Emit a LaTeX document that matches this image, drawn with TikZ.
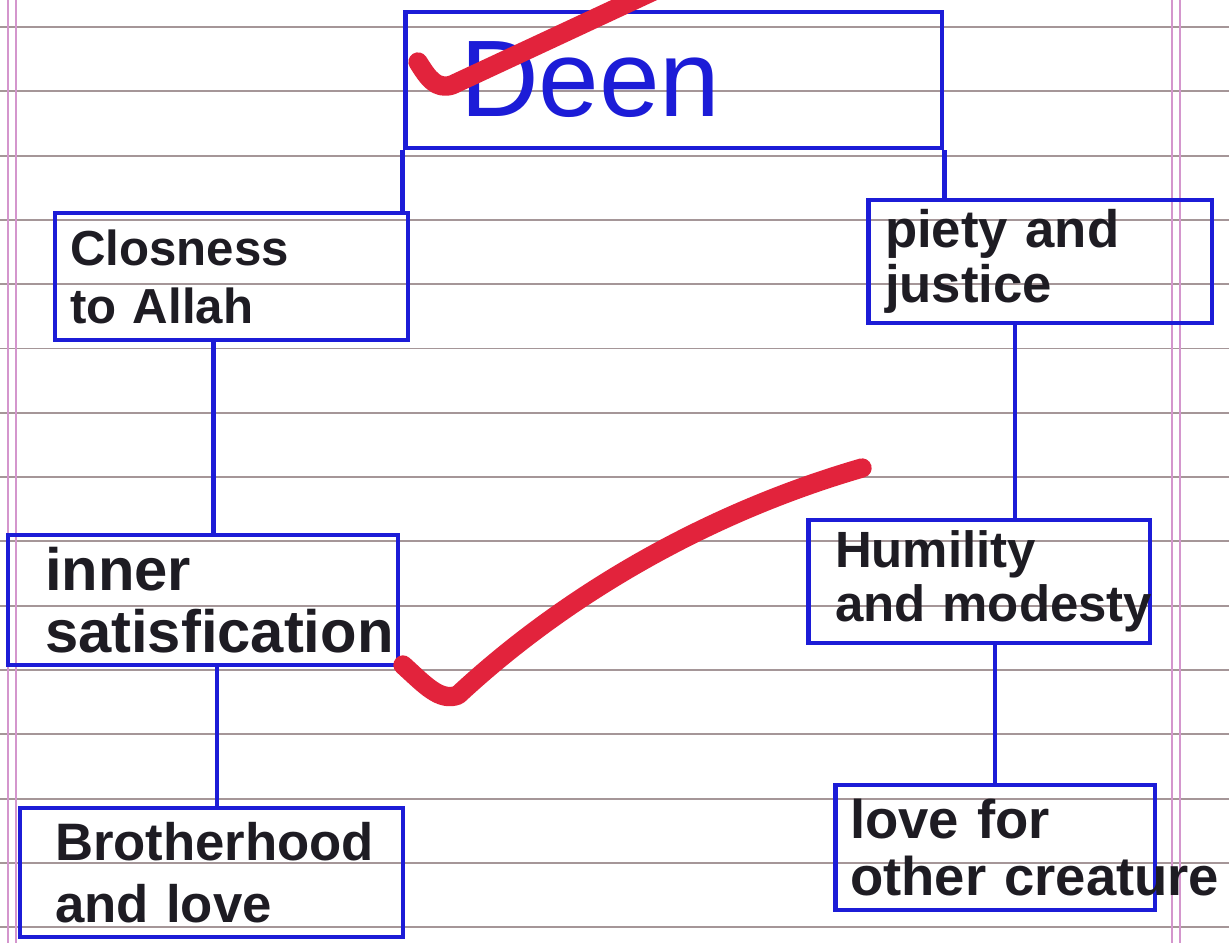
\documentclass[tikz,border=0pt]{standalone}
\usepackage{fontspec}
\setmainfont{Liberation Sans}
\usetikzlibrary{calc}
\definecolor{pen}{RGB}{28,28,215}
\definecolor{ink}{RGB}{30,28,35}
\definecolor{tick}{RGB}{226,35,60}
\definecolor{ruling}{RGB}{165,150,152}
\definecolor{margin}{RGB}{212,150,205}
\begin{document}
\begin{tikzpicture}[x=0.02cm,y=-0.02cm,
  box/.style={draw=pen, line width=2.8pt, rectangle, align=left, text=ink,
    font=\bfseries\fontsize{30}{35}\selectfont, inner ysep=0pt},
  link/.style={draw=pen, line width=2.8pt},
  check/.style={draw=tick, line width=11pt, line cap=round, line join=round},
  paperline/.style={draw=ruling, line width=1.1pt},
  marginline/.style={draw=margin, line width=0.9pt}]
\useasboundingbox (0,0) rectangle (1229,943);
% paper
\fill[white] (0,0) rectangle (1229,943);
\foreach \k in {0,...,14} \draw[paperline] (0,{27+64.3*\k}) -- (1229,{27+64.3*\k});
\foreach \xx in {8,16,1172,1180} \draw[marginline] (\xx,0) -- (\xx,943);

% boxes
\node[box, minimum width=10.74cm, minimum height=2.72cm, inner xsep=1.1cm, text width=8.54cm,
      text=pen, font=\fontsize{62}{62}\selectfont] (deen) at (673.5,80) {Deen};
\node[box, minimum width=7.06cm, minimum height=2.54cm, inner xsep=0.3cm, text width=6.46cm,
      font=\bfseries\fontsize{28}{33}\selectfont] (close) at (231.5,276.5) {\mbox{Closness}\\\mbox{to Allah}};
\node[box, minimum width=6.88cm, minimum height=2.46cm, inner xsep=0.34cm, text width=6.2cm,
      font=\bfseries\fontsize{30}{31}\selectfont] (piety) at (1040,261.5) {\mbox{piety and}\\\mbox{justice}};
\node[box, minimum width=7.8cm, minimum height=2.6cm, inner xsep=0.74cm, text width=6.32cm,
      font=\bfseries\fontsize{34}{35}\selectfont] (inner) at (203,600) {\mbox{inner}\\\mbox{satisfication}};
\node[box, minimum width=6.84cm, minimum height=2.46cm, inner xsep=0.54cm, text width=5.76cm,
      font=\bfseries\fontsize{29}{31}\selectfont] (humility) at (979,581.5) {\mbox{Humility}\\\mbox{and modesty}};
\node[box, minimum width=7.66cm, minimum height=2.58cm, inner xsep=0.7cm, text width=6.26cm] (brother) at (211.5,872.5) {\mbox{Brotherhood}\\\mbox{and love}};
\node[box, minimum width=6.4cm, minimum height=2.5cm, inner xsep=0.3cm, text width=5.8cm,
      font=\bfseries\fontsize{31}{32}\selectfont] (love) at (995,847.5) {\mbox{love for}\\\mbox{other creature}};

% connector anchors
\coordinate (c1) at ($(close.south)+(-18,0)$);
\coordinate (c2) at ($(inner.south)+(14,0)$);
\coordinate (c3) at ($(piety.south)+(-25,0)$);

% connectors
\draw[link] (deen.south west) -- (deen.south west |- close.north);
\draw[link] (deen.south east) -- (deen.south east |- piety.north);
\draw[link] (c1) -- (c1 |- inner.north);
\draw[link] (c2) -- (c2 |- brother.north);
\draw[link] (c3) -- (c3 |- humility.north);
\draw[link] (humility.south -| love.north) -- (love.north);

% red check marks
\draw[check] (418,62) .. controls (428,78) and (436,90) .. (452,85) -- (660,-12);
\draw[check] (403,665) .. controls (425,685) and (440,702) .. (458,695)
   .. controls (560,600) and (700,515) .. (862,468);
\end{tikzpicture}
\end{document}
